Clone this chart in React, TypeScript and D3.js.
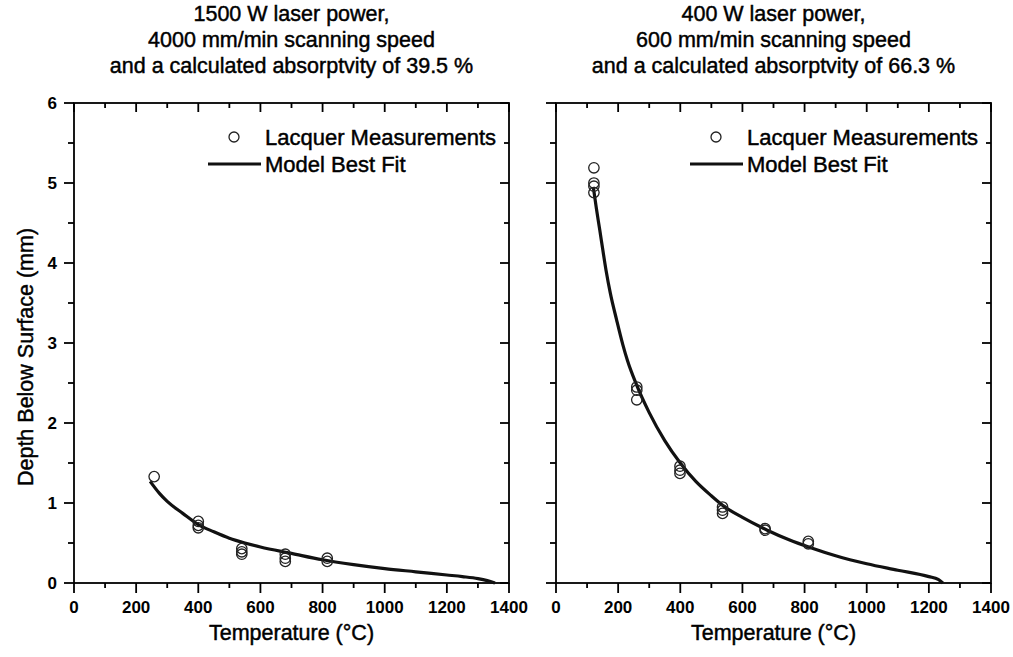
import React from "react";
import * as d3 from "d3";

// ---- data ----
const leftTitle = ["1500 W laser power,", "4000 mm/min scanning speed", "and a calculated absorptvity of 39.5 %"];
const rightTitle = ["400 W laser power,", "600 mm/min scanning speed", "and a calculated absorptvity of 66.3 %"];

const leftPoints: [number, number][] = [
  [258, 1.33],
  [400, 0.77], [400, 0.72], [400, 0.69],
  [540, 0.43], [540, 0.39], [540, 0.36],
  [680, 0.36], [680, 0.31], [680, 0.27],
  [815, 0.31], [815, 0.27],
];
const leftFit: [number, number][] = [
  [245, 1.27], [275, 1.12], [300, 1.02], [350, 0.87], [400, 0.73], [450, 0.64], [500, 0.56],
  [550, 0.50], [600, 0.45], [700, 0.37], [800, 0.29], [900, 0.23], [1000, 0.18], [1100, 0.14],
  [1200, 0.10], [1250, 0.08], [1300, 0.055], [1330, 0.03], [1355, 0.0],
];

const rightPoints: [number, number][] = [
  [122, 5.19], [122, 5.0], [122, 4.96], [122, 4.88],
  [260, 2.45], [260, 2.41], [260, 2.29],
  [399, 1.46], [399, 1.41], [399, 1.37],
  [536, 0.95], [536, 0.91], [536, 0.87],
  [673, 0.68], [673, 0.66],
  [812, 0.52], [812, 0.49],
];
const rightFit: [number, number][] = [
  [120, 4.95], [130, 4.68], [141, 4.41], [150, 4.18], [161, 3.91], [175, 3.62], [195, 3.29],
  [215, 2.98], [230, 2.78], [260, 2.47], [300, 2.13], [350, 1.78], [400, 1.50], [450, 1.27],
  [500, 1.09], [540, 0.96], [600, 0.82], [680, 0.66], [750, 0.54], [820, 0.44], [900, 0.34],
  [1000, 0.24], [1100, 0.16], [1200, 0.08], [1230, 0.045], [1245, 0.0],
];

const xMajor = [0, 200, 400, 600, 800, 1000, 1200, 1400];
const xMinor = [100, 300, 500, 700, 900, 1100, 1300];
const yMajor = [0, 1, 2, 3, 4, 5, 6];
const yMinor = [0.5, 1.5, 2.5, 3.5, 4.5, 5.5];

const legendLabels = ["Lacquer Measurements", "Model Best Fit"];
const xLabel = "Temperature (°C)";
const yLabel = "Depth Below Surface (mm)";

const FONT = "'Liberation Sans', Arial, Helvetica, sans-serif";
const TOP = 103;
const BOTTOM = 583;
const textStyle = { stroke: "#000", strokeWidth: 0.45 } as const;

type PanelProps = {
  x0: number;
  x1: number;
  title: string[];
  points: [number, number][];
  fit: [number, number][];
  showYLabels: boolean;
};

function Panel({ x0, x1, title, points, fit, showYLabels }: PanelProps) {
  const x = d3.scaleLinear().domain([0, 1400]).range([x0, x1]);
  const y = d3.scaleLinear().domain([0, 6]).range([BOTTOM, TOP]);
  const line = d3.line<[number, number]>().x((d) => x(d[0])).y((d) => y(d[1])).curve(d3.curveMonotoneX);
  const cx = (x0 + x1) / 2;
  const legendCircleX = x0 + 160;
  const legendTextX = x0 + 191;
  return (
    <g>
      {title.map((t, i) => (
        <text key={i} x={cx} y={21 + i * 26} textAnchor="middle" fontSize={21.5} fontFamily={FONT} fill="#000" {...textStyle}>
          {t}
        </text>
      ))}
      {/* frame */}
      <rect x={x0} y={TOP} width={x1 - x0} height={BOTTOM - TOP} fill="none" stroke="#000" strokeWidth={1.8} />
      {/* x ticks */}
      {xMajor.map((v) => (
        <g key={"xm" + v}>
          <line x1={x(v)} x2={x(v)} y1={BOTTOM} y2={BOTTOM + 10} stroke="#000" strokeWidth={1.8} />
          <line x1={x(v)} x2={x(v)} y1={TOP} y2={TOP + 9} stroke="#000" strokeWidth={1.8} />
          <text x={x(v)} y={BOTTOM + 30} textAnchor="middle" fontSize={17} fontWeight="bold" fontFamily={FONT}>
            {v}
          </text>
        </g>
      ))}
      {xMinor.map((v) => (
        <g key={"xn" + v}>
          <line x1={x(v)} x2={x(v)} y1={BOTTOM} y2={BOTTOM + 5} stroke="#000" strokeWidth={1.8} />
          <line x1={x(v)} x2={x(v)} y1={TOP} y2={TOP + 5} stroke="#000" strokeWidth={1.8} />
        </g>
      ))}
      {/* y ticks */}
      {yMajor.map((v) => (
        <g key={"ym" + v}>
          <line x1={x0 - 10} x2={x0} y1={y(v)} y2={y(v)} stroke="#000" strokeWidth={1.8} />
          <line x1={x1 - 9} x2={x1} y1={y(v)} y2={y(v)} stroke="#000" strokeWidth={1.8} />
          {showYLabels && (
            <text x={x0 - 17} y={y(v) + 6} textAnchor="end" fontSize={17} fontWeight="bold" fontFamily={FONT}>
              {v}
            </text>
          )}
        </g>
      ))}
      {yMinor.map((v) => (
        <g key={"yn" + v}>
          <line x1={x0 - 6} x2={x0} y1={y(v)} y2={y(v)} stroke="#000" strokeWidth={1.8} />
          <line x1={x1 - 5} x2={x1} y1={y(v)} y2={y(v)} stroke="#000" strokeWidth={1.8} />
        </g>
      ))}
      {/* fit line */}
      <path d={line(fit) || ""} fill="none" stroke="#111" strokeWidth={3.2} />
      {/* points */}
      {points.map((p, i) => (
        <circle key={i} cx={x(p[0])} cy={y(p[1])} r={5.2} fill="none" stroke="#222" strokeWidth={1.3} />
      ))}
      {/* legend */}
      <circle cx={legendCircleX} cy={137} r={5} fill="none" stroke="#222" strokeWidth={1.3} />
      <text x={legendTextX} y={145} fontSize={22} fontFamily={FONT} {...textStyle}>
        {legendLabels[0]}
      </text>
      <line x1={x0 + 134} x2={x0 + 187} y1={164} y2={164} stroke="#111" strokeWidth={3} />
      <text x={legendTextX} y={172} fontSize={22} fontFamily={FONT} {...textStyle}>
        {legendLabels[1]}
      </text>
      {/* x label */}
      <text x={cx} y={640} textAnchor="middle" fontSize={21.5} fontFamily={FONT} {...textStyle}>
        {xLabel}
      </text>
    </g>
  );
}

export default function App() {
  return (
    <svg
      width={1013}
      height={657}
      style={{ position: "absolute", left: 0, top: 0, background: "#fff" }}
      xmlns="http://www.w3.org/2000/svg"
    >
      <rect width={1013} height={657} fill="#fff" />
      <Panel x0={74} x1={509} title={leftTitle} points={leftPoints} fit={leftFit} showYLabels={true} />
      <Panel x0={556} x1={991} title={rightTitle} points={rightPoints} fit={rightFit} showYLabels={false} />
      <text
        transform={`translate(33, ${(TOP + BOTTOM) / 2 + 14}) rotate(-90)`}
        textAnchor="middle"
        fontSize={21.5}
        fontFamily={FONT}
        {...textStyle}
      >
        {yLabel}
      </text>
    </svg>
  );
}
